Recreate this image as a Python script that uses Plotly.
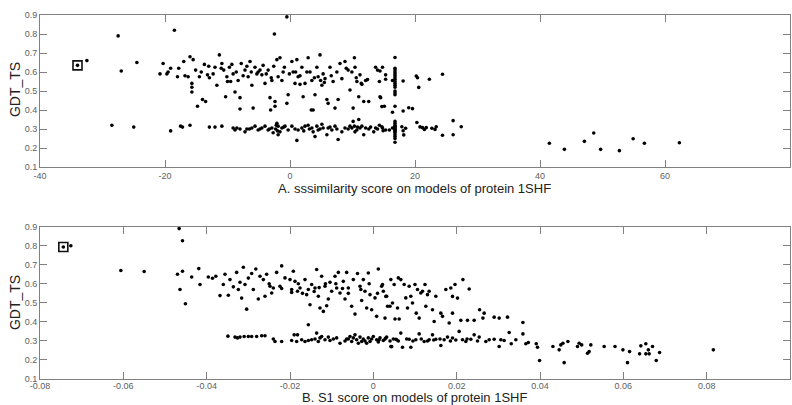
import plotly.graph_objects as go

# ---------------- Panel A: sssimilarity score vs GDT_TS ----------------
a_upper = [(-20.3,0.645),(-20.8,0.59),(-19.7,0.59),(-19.1,0.62),(-18,0.575),(-17,0.655),(-16.3,0.575),(-16,0.68),
 (-15.7,0.54),(-15.7,0.52),(-15.7,0.495),(-15.5,0.665),(-15.1,0.61),(-14.8,0.42),(-14.5,0.575),(-14,0.455),
 (-13.7,0.64),(-13.5,0.445),(-13.2,0.585),(-12.9,0.57),(-12.3,0.59),(-12,0.625),(-11.7,0.53),(-11.3,0.69),
 (-10.9,0.645),(-10.6,0.61),(-10.3,0.47),(-10.1,0.575),(-9.7,0.625),(-9.5,0.55),(-9.1,0.59),(-8.8,0.495),
 (-8.3,0.555),(-8,0.465),(-7.8,0.645),(-7.2,0.61),(-8,0.405),(-6.7,0.575),(-6.4,0.655),(-6.1,0.53),(-5.9,0.41),
 (-5.6,0.625),(-5.1,0.60),(-4.5,0.585),(-4.3,0.635),(-4,0.54),(-3.5,0.61),(-3.2,0.465),(-2.9,0.555),(-2.4,0.445),
 (-2.4,0.42),(-2.1,0.665),(-1.9,0.575),(-1.6,0.675),(-1.3,0.555),(-0.9,0.625),(-0.5,0.435),(-0.3,0.48),(0.3,0.655),
 (0.5,0.60),(0.8,0.54),(1.1,0.665),(1.3,0.575),(1.6,0.535),(1.9,0.625),(2.1,0.47),(2.7,0.60),(2.9,0.675),(3.5,0.555),
 (3.7,0.40),(4,0.48),(4.3,0.625),(4.5,0.575),(4.8,0.69),(5.1,0.53),(5.3,0.59),(5.6,0.565),(5.9,0.455),(6.1,0.435),
 (6.4,0.625),(6.9,0.55),(7.2,0.41),(7.7,0.455),(8,0.645),(8.3,0.565),(8.8,0.655),(9.3,0.61),(9.6,0.505),(10.1,0.41),
 (10.3,0.675),(10.4,0.625),(10.7,0.55),(11,0.47),(11.2,0.585),(11.5,0.535),(11.8,0.445),(12.1,0.555),(12.6,0.445),
 (13.7,0.625),(14,0.61),(14.3,0.55),(14.5,0.465),(14.8,0.625),(15.1,0.42),(15.3,0.585),(16.4,0.555),
 (-19.5,0.60),(-17.8,0.62),(-16.8,0.58),(-14.2,0.60),(-13,0.63),(-11,0.62),(-10,0.55),(-9.3,0.64),(-8.6,0.60),
 (-7.5,0.58),(-6.9,0.63),(-6.2,0.60),(-5.3,0.59),(-4.8,0.61),(-3.8,0.59),(-3.0,0.57),(-2.6,0.63),(-1.1,0.60),
 (-0.1,0.59),(0.9,0.60),(1.6,0.58),(2.4,0.54),(3.2,0.60),(3.9,0.57),(4.9,0.555),(5.5,0.545),(6.6,0.58),(7.5,0.60),
 (9,0.62),(9.9,0.60),(10.6,0.57),(11.4,0.54),(12.4,0.56),(3.4,0.40),(-3.1,0.40),(14.4,0.605),(15.3,0.562),
 (14.4,0.47),(14.7,0.418),(16.4,0.388),(18.1,0.553),(18.1,0.395),(19.0,0.412),(19.6,0.407),(20.2,0.579),
 (20.4,0.57),(20.6,0.519),(22.3,0.562),(24.4,0.588)]

a_lower = [(-19.1,0.29),(-17.5,0.315),(-17.2,0.31),(-16,0.32),(-12.9,0.31),(-12,0.31),(-10.9,0.315),(-9.1,0.305),
 (-8.8,0.295),(-8.5,0.305),(-7.2,0.285),(-6.9,0.30),(-6.1,0.305),(-5.6,0.315),(-5.1,0.295),(-4.5,0.305),(-4,0.315),
 (-3.5,0.295),(-2.9,0.305),(-2.7,0.28),(-2.1,0.33),(-1.9,0.315),(-1.9,0.27),(-1.6,0.285),(-1.3,0.305),(-0.8,0.315),
 (-0.3,0.295),(0.3,0.315),(1.1,0.24),(1.3,0.295),(1.9,0.305),(2.4,0.315),(2.9,0.32),(3.5,0.305),(3.7,0.285),(4,0.26),
 (4.3,0.315),(4.5,0.295),(5.1,0.325),(5.3,0.305),(5.9,0.27),(6.1,0.305),(6.7,0.295),(7.2,0.315),(7.7,0.245),
 (8.3,0.285),(8.8,0.305),(9.6,0.315),(9.9,0.305),(10.1,0.34),(10.3,0.315),(10.4,0.285),(10.7,0.295),(11,0.35),
 (11.2,0.305),(11.5,0.315),(11.8,0.27),(12.1,0.305),(12.6,0.30),(13.4,0.285),(13.7,0.305),(14.3,0.32),(14.8,0.305),
 (15.3,0.295),(16.4,0.305),(-4.8,0.30),(-3.3,0.30),(-1,0.31),(0.8,0.30),(2.2,0.29),(3.1,0.30),(4.8,0.30),(6.4,0.31),
 (7.5,0.30),(9.3,0.30),(10.8,0.31),(12.9,0.31),(14,0.30),(-6.5,0.30),(-8,0.30),(-2.3,0.30),(-2.2,0.32),(-2.0,0.29),
 (20.3,0.334),(20.8,0.311),(21.2,0.307),(21.5,0.298),(21.8,0.307),(22.7,0.304),(23.2,0.298),(23.4,0.312),
 (24.4,0.267),(26.1,0.344),(26.1,0.27),(27.4,0.312),(17.9,0.312),(18.1,0.291),(18.2,0.269),(18.5,0.304),
 (14.9,0.291),(15.9,0.295),(14.7,0.312)]

a_column_x = [16.8,16.8,16.8,16.8,16.8,16.8,16.8,16.8,16.8,16.8,16.8,16.8,16.8,16.8,16.8,16.8,
 16.8,16.8,16.8,16.8,16.8,16.8,16.8,16.8,16.8,16.8,16.8,16.8,16.8,16.8,16.8]
a_column_y = [0.676,0.62,0.61,0.60,0.59,0.58,0.57,0.56,0.55,0.54,0.53,0.52,0.50,0.49,0.48,0.42,
 0.34,0.33,0.32,0.315,0.31,0.305,0.30,0.295,0.29,0.285,0.28,0.27,0.26,0.25,0.23]

a_outliers = [(-34,0.635),(-32.5,0.66),(-27.5,0.79),(-27,0.605),(-24.5,0.65),(-28.5,0.32),(-25,0.31),
 (-18.5,0.82),(-2.5,0.80),(-0.5,0.89),(41.5,0.225),(43.9,0.193),(47.1,0.235),(48.6,0.279),(49.7,0.193),
 (52.7,0.186),(54.9,0.249),(56.7,0.225),(62.3,0.228)]

a_marked_x = [-34]
a_marked_y = [0.635]

# ---------------- Panel B: S1 score vs GDT_TS ----------------
b_upper = [(-0.0726,0.80),(-0.0606,0.67),(-0.055,0.665),(-0.0466,0.89),(-0.0458,0.826),(-0.047,0.65),
 (-0.0458,0.666),(-0.0464,0.57),(-0.0451,0.495),(-0.0436,0.636),(-0.0419,0.68),(-0.0416,0.596),(-0.0396,0.636),
 (-0.0386,0.629),(-0.0378,0.64),(-0.0368,0.538),(-0.036,0.596),(-0.0356,0.65),(-0.0348,0.54),(-0.0344,0.622),
 (-0.0336,0.584),(-0.0328,0.66),(-0.0324,0.57),(-0.032,0.608),(-0.0316,0.525),(-0.0312,0.687),(-0.0308,0.596),
 (-0.0304,0.467),(-0.03,0.63),(-0.0292,0.654),(-0.0288,0.57),(-0.0282,0.678),(-0.0276,0.52),(-0.0272,0.64),
 (-0.0264,0.622),(-0.026,0.535),(-0.0256,0.65),(-0.0248,0.587),(-0.0244,0.552),(-0.024,0.578),(-0.0232,0.66),
 (-0.0224,0.587),(-0.022,0.694),(-0.0212,0.631),(-0.02,0.622),(-0.0196,0.57),(-0.0192,0.666),(-0.0188,0.613),
 (-0.0182,0.561),(-0.0176,0.578),(-0.0164,0.622),(-0.016,0.543),(-0.0156,0.57),(-0.0152,0.49),(-0.0148,0.596),
 (-0.014,0.578),(-0.0136,0.675),(-0.0132,0.535),(-0.0128,0.473),(-0.0124,0.64),(-0.012,0.455),(-0.0116,0.587),
 (-0.0112,0.485),(-0.0108,0.52),(-0.0104,0.608),(-0.01,0.561),(-0.0092,0.64),(-0.0088,0.578),(-0.0084,0.66),
 (-0.008,0.552),(-0.0072,0.613),(-0.0068,0.52),(-0.0064,0.66),(-0.006,0.578),(-0.0052,0.482),(-0.0048,0.622),
 (-0.0044,0.441),(-0.0038,0.654),(-0.0032,0.587),(-0.0028,0.512),(-0.0024,0.622),(-0.002,0.561),(-0.0016,0.473),
 (-0.0012,0.657),(-0.0008,0.543),(-0.0004,0.464),(0.0004,0.526),(0.0008,0.429),(0.0012,0.678),(0.002,0.587),
 (0.0024,0.561),(0.0028,0.42),(0.0032,0.535),(0.004,0.482),(0.0052,0.415),(0.006,0.631),
 (-0.0196,0.555),(-0.017,0.55),(-0.0142,0.56),(-0.0115,0.60),(-0.009,0.60),(-0.006,0.55),(-0.003,0.57),
 (-0.001,0.60),(0.001,0.55),(-0.025,0.60),(-0.022,0.575),(-0.018,0.60),(-0.013,0.58),(-0.0074,0.575),
 (0.0022,0.596),(0.003,0.534),(0.0034,0.482),(0.0042,0.622),(0.0046,0.499),(0.005,0.596),(0.0058,0.473),
 (0.0062,0.415),(0.0066,0.622),(0.0074,0.596),(0.0078,0.526),(0.0082,0.473),(0.0086,0.587),(0.009,0.535),
 (0.0094,0.499),(0.01,0.596),(0.0103,0.446),(0.0106,0.57),(0.011,0.42),(0.0114,0.552),(0.0118,0.561),
 (0.0124,0.596),(0.0126,0.482),(0.013,0.543),(0.0134,0.561),(0.0142,0.464),(0.0146,0.402),(0.015,0.535),
 (0.0162,0.446),(0.0166,0.429),(0.0174,0.57),(0.0182,0.394),(0.0186,0.578),(0.019,0.534),(0.019,0.446),
 (0.0196,0.596),(0.0202,0.525),(0.021,0.408),(0.0215,0.622),(0.0226,0.408),(0.023,0.573),(0.0242,0.408),
 (0.0255,0.464),(0.0266,0.446),(0.0263,0.42),(0.029,0.425),(0.0302,0.42),(0.0322,0.425),(0.0359,0.397),
 (0.0359,0.337)]

b_lower = [(-0.0349,0.325),(-0.0332,0.32),(-0.0326,0.316),(-0.032,0.32),(-0.031,0.323),(-0.03,0.323),
 (-0.0292,0.323),(-0.028,0.323),(-0.0268,0.327),(-0.026,0.327),(-0.024,0.31),(-0.0236,0.297),(-0.022,0.297),
 (-0.0196,0.302),(-0.019,0.332),(-0.0182,0.332),(-0.0184,0.297),(-0.0172,0.306),(-0.0164,0.297),(-0.0156,0.385),
 (-0.0156,0.302),(-0.0148,0.306),(-0.014,0.31),(-0.0136,0.341),(-0.0132,0.297),(-0.0128,0.316),(-0.0124,0.323),
 (-0.0116,0.306),(-0.0108,0.32),(-0.0104,0.302),(-0.0096,0.31),(-0.0088,0.316),(-0.008,0.288),(-0.0064,0.31),
 (-0.0056,0.323),(-0.0052,0.297),(-0.0048,0.316),(-0.0044,0.332),(-0.004,0.306),(-0.0036,0.288),(-0.0032,0.32),
 (-0.0028,0.297),(-0.0024,0.31),(-0.0016,0.288),(-0.0012,0.316),(-0.0008,0.297),(0.0,0.323),(0.0008,0.306),
 (0.0016,0.316),(0.0024,0.302),(0.0032,0.32),(0.0044,0.27),(0.0048,0.31),(0.0056,0.306),
 (-0.002,0.30),(-0.0004,0.31),(0.0012,0.295),(0.0028,0.31),(0.004,0.30),(-0.0068,0.30),(-0.006,0.31),
 (0.0014,0.306),(0.003,0.315),(0.0042,0.271),(0.0054,0.309),(0.0066,0.341),(0.007,0.267),(0.0086,0.309),
 (0.009,0.267),(0.0102,0.306),(0.011,0.337),(0.0122,0.297),(0.0134,0.306),(0.0142,0.332),(0.015,0.309),
 (0.0162,0.276),(0.017,0.306),(0.0178,0.32),(0.019,0.315),(0.0206,0.35),(0.0214,0.306),(0.0222,0.297),
 (0.0234,0.309),(0.0242,0.332),(0.0254,0.32),(0.027,0.297),(0.0278,0.306),(0.029,0.309),(0.0302,0.271),
 (0.0306,0.306),(0.0314,0.302),(0.0326,0.344),(0.0331,0.285),(0.0342,0.306),(0.0366,0.285),(0.0372,0.292),
 (0.0391,0.285),(0.0394,0.267),(0.0399,0.197),(0.0431,0.271),(0.0446,0.253),(0.045,0.279),(0.0455,0.288),
 (0.0458,0.186),(0.0467,0.297),(0.049,0.271),(0.0494,0.288),(0.05,0.279),(0.0514,0.235),(0.0518,0.244),
 (0.0522,0.279),(0.0554,0.271),(0.058,0.271),(0.0599,0.253),(0.061,0.186),(0.0615,0.244),(0.0639,0.232),
 (0.0642,0.274),(0.0654,0.285),(0.0654,0.232),(0.0662,0.232),(0.066,0.253),(0.067,0.271),(0.0679,0.197),
 (0.0687,0.239),(0.0816,0.253),
 (0.006,0.30),(0.008,0.31),(0.0095,0.30),(0.0115,0.31),(0.013,0.30),(0.0145,0.305),(0.016,0.31),(0.0185,0.30),
 (0.0198,0.305),(0.0225,0.31),(0.025,0.30)]

b_marked_x = [-0.0744]
b_marked_y = [0.793]

y_ticks = [0.1, 0.2, 0.3, 0.4, 0.5, 0.6, 0.7, 0.8, 0.9]
y_labels = ["0.1", "0.2", "0.3", "0.4", "0.5", "0.6", "0.7", "0.8", "0.9"]
a_x_ticks = [-40, -20, 0, 20, 40, 60, 80]
a_x_labels = ["-40", "-20", "0", "20", "40", "60", "80"]
b_x_ticks = [-0.08, -0.06, -0.04, -0.02, 0, 0.02, 0.04, 0.06, 0.08, 0.1]
b_x_labels = ["-0.08", "-0.06", "-0.04", "-0.02", "0", "0.02", "0.04", "0.06", "0.08", "0.1"]

a_title = "A. sssimilarity score on models of protein 1SHF"
b_title = "B. S1 score on models of protein 1SHF"
y_title = "GDT_TS"


def unzip(pairs):
    return [p[0] for p in pairs], [p[1] for p in pairs]


W, H = 792, 405
fig = go.Figure()

dot = dict(color="black", size=3.6, line=dict(width=0))

ax_all = []
ay_all = []
for grp in (a_upper, a_lower, a_outliers):
    xs, ys = unzip(grp)
    ax_all += xs
    ay_all += ys
ax_all += a_column_x
ay_all += a_column_y

bx_all = []
by_all = []
for grp in (b_upper, b_lower):
    xs, ys = unzip(grp)
    bx_all += xs
    by_all += ys
bx_all += b_marked_x
by_all += b_marked_y

fig.add_trace(go.Scatter(x=ax_all, y=ay_all, mode="markers", marker=dot, xaxis="x", yaxis="y",
                         showlegend=False, cliponaxis=False))
fig.add_trace(go.Scatter(x=a_marked_x, y=a_marked_y, mode="markers", xaxis="x", yaxis="y", showlegend=False,
                         marker=dict(symbol="square-open", size=9, color="#111", line=dict(width=1.6, color="#111"))))
fig.add_trace(go.Scatter(x=bx_all, y=by_all, mode="markers", marker=dot, xaxis="x2", yaxis="y2",
                         showlegend=False, cliponaxis=False))
fig.add_trace(go.Scatter(x=b_marked_x, y=b_marked_y, mode="markers", xaxis="x2", yaxis="y2", showlegend=False,
                         marker=dict(symbol="square-open", size=9, color="#111", line=dict(width=1.6, color="#111"))))

axis_style = dict(showline=True, linecolor="#808080", linewidth=1, mirror="ticks", ticks="inside",
                  ticklen=7, tickcolor="#808080", tickwidth=1, showgrid=False, zeroline=False,
                  automargin=False,
                  tickfont=dict(family="Liberation Sans, Arial, sans-serif", size=9, color="#606060"))

# plot area spans x 40..790.5, panel A y 15..167, panel B y 226.7..379 (pixels)
ML, MR, MT, MB = 40, 1.5, 15, 26
ph = H - MT - MB
def ydom(top_px, bot_px):
    return [(H - bot_px - MB) / ph, (H - top_px - MB) / ph]

fig.update_layout(
    width=W, height=H,
    margin=dict(l=ML, r=MR, t=MT, b=MB, autoexpand=False),
    paper_bgcolor="white", plot_bgcolor="white",
    hovermode=False,
    xaxis=dict(domain=[0, 1], range=[-40, 80], tickvals=a_x_ticks, ticktext=a_x_labels, anchor="y", **axis_style),
    yaxis=dict(domain=ydom(15, 167), range=[0.1, 0.9], tickvals=y_ticks, ticktext=y_labels,
               anchor="x", **axis_style),
    xaxis2=dict(domain=[0, 1], range=[-0.08, 0.1], tickvals=b_x_ticks, ticktext=b_x_labels, anchor="y2",
                ticklabelstandoff=-2, **axis_style),
    yaxis2=dict(domain=ydom(226.7, 379), range=[0.1, 0.9], tickvals=y_ticks, ticktext=y_labels,
                anchor="x2", **axis_style),
)

title_font = dict(family="Liberation Sans, Arial, sans-serif", size=13, color="#222")
def px_x(p):
    return (p - ML) / (W - ML - MR)
def px_y(p):
    return (H - MB - p) / ph

fig.add_annotation(text=a_title, xref="paper", yref="paper", x=px_x(414.5), y=px_y(188),
                   showarrow=False, xanchor="center", yanchor="middle", font=title_font)
fig.add_annotation(text=b_title, xref="paper", yref="paper", x=px_x(415), y=px_y(397.5),
                   showarrow=False, xanchor="center", yanchor="middle", font=title_font)
fig.add_annotation(text=y_title, xref="paper", yref="paper", x=px_x(15), y=px_y(90), textangle=-90,
                   showarrow=False, xanchor="center", yanchor="middle", font=dict(title_font, size=14))
fig.add_annotation(text=y_title, xref="paper", yref="paper", x=px_x(15), y=px_y(303), textangle=-90,
                   showarrow=False, xanchor="center", yanchor="middle", font=dict(title_font, size=14))

fig.write_html("out.html", config={"displayModeBar": False, "staticPlot": True},
               post_script="document.body.style.margin='0';document.body.style.overflow='hidden';")
